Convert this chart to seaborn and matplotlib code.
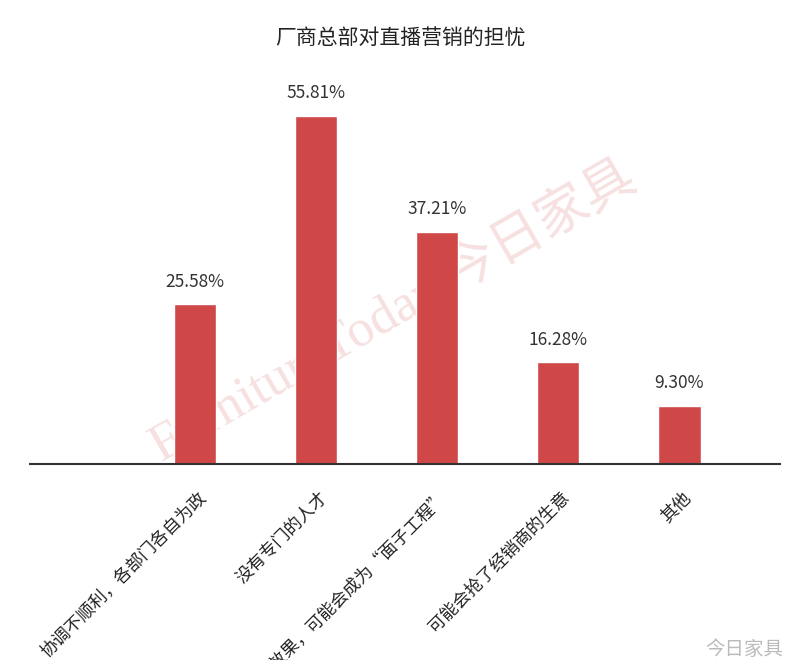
import pandas as pd
import matplotlib
matplotlib.use("Agg")
import matplotlib.pyplot as plt
import seaborn as sns

# data
categories = ["协调不顺利，各部门各自为政", "没有专门的人才", "没有效果，可能会成为“面子工程”",
              "可能会抢了经销商的生意", "其他"]
values = [25.58, 55.81, 37.21, 16.28, 9.30]
value_labels = ["25.58%", "55.81%", "37.21%", "16.28%", "9.30%"]

df = pd.DataFrame({"concern": categories, "share": values})

sns.set_theme(style="white")
plt.rcParams["font.family"] = ["Noto Sans CJK SC", "DejaVu Sans"]

fig = plt.figure(figsize=(8, 6.6), dpi=100)
ax = fig.add_axes([0.0375, 0.297, 0.9375, 0.582])

sns.barplot(data=df, x="concern", y="share", color="#cf4747", width=0.35,
            saturation=1, ax=ax, zorder=2)

ax.set_xlim(-1.36, 4.83)
ax.set_ylim(0, 61.6)

# value labels above bars
for i, (v, lab) in enumerate(zip(values, value_labels)):
    ax.text(i, v + 2.2, lab, ha="center", va="bottom", fontsize=12.5, color="#333333")

# rotated category labels
ax.set_xticks([i + 0.07 for i in range(len(categories))])
ax.set_xticklabels(categories, rotation=45, ha="right", va="center",
                   rotation_mode="anchor", fontsize=12.5, color="#222222")
ax.tick_params(axis="x", length=0, pad=22)
ax.set_yticks([])
ax.set_xlabel("")
ax.set_ylabel("")

for side in ["top", "left", "right"]:
    ax.spines[side].set_visible(False)
ax.spines["bottom"].set_color("#333333")
ax.spines["bottom"].set_linewidth(1.5)

fig.text(0.5, 0.942, "厂商总部对直播营销的担忧", ha="center", va="center",
         fontsize=15, color="#222222")

# faint watermark behind the bars
ax.text(0.49, 0.53, "FurnitureToday 今日家具", ha="center", va="center",
        rotation=30, fontsize=38, color="#f6e0e0",
        family=["Liberation Serif", "Noto Sans CJK SC"], zorder=0.5,
        transform=fig.transFigure)
fig.text(0.93, 0.0, "今日家具", ha="center", va="bottom", fontsize=14,
         color="#bbbbbb")

fig.savefig("out.png", dpi=100, facecolor="white")
